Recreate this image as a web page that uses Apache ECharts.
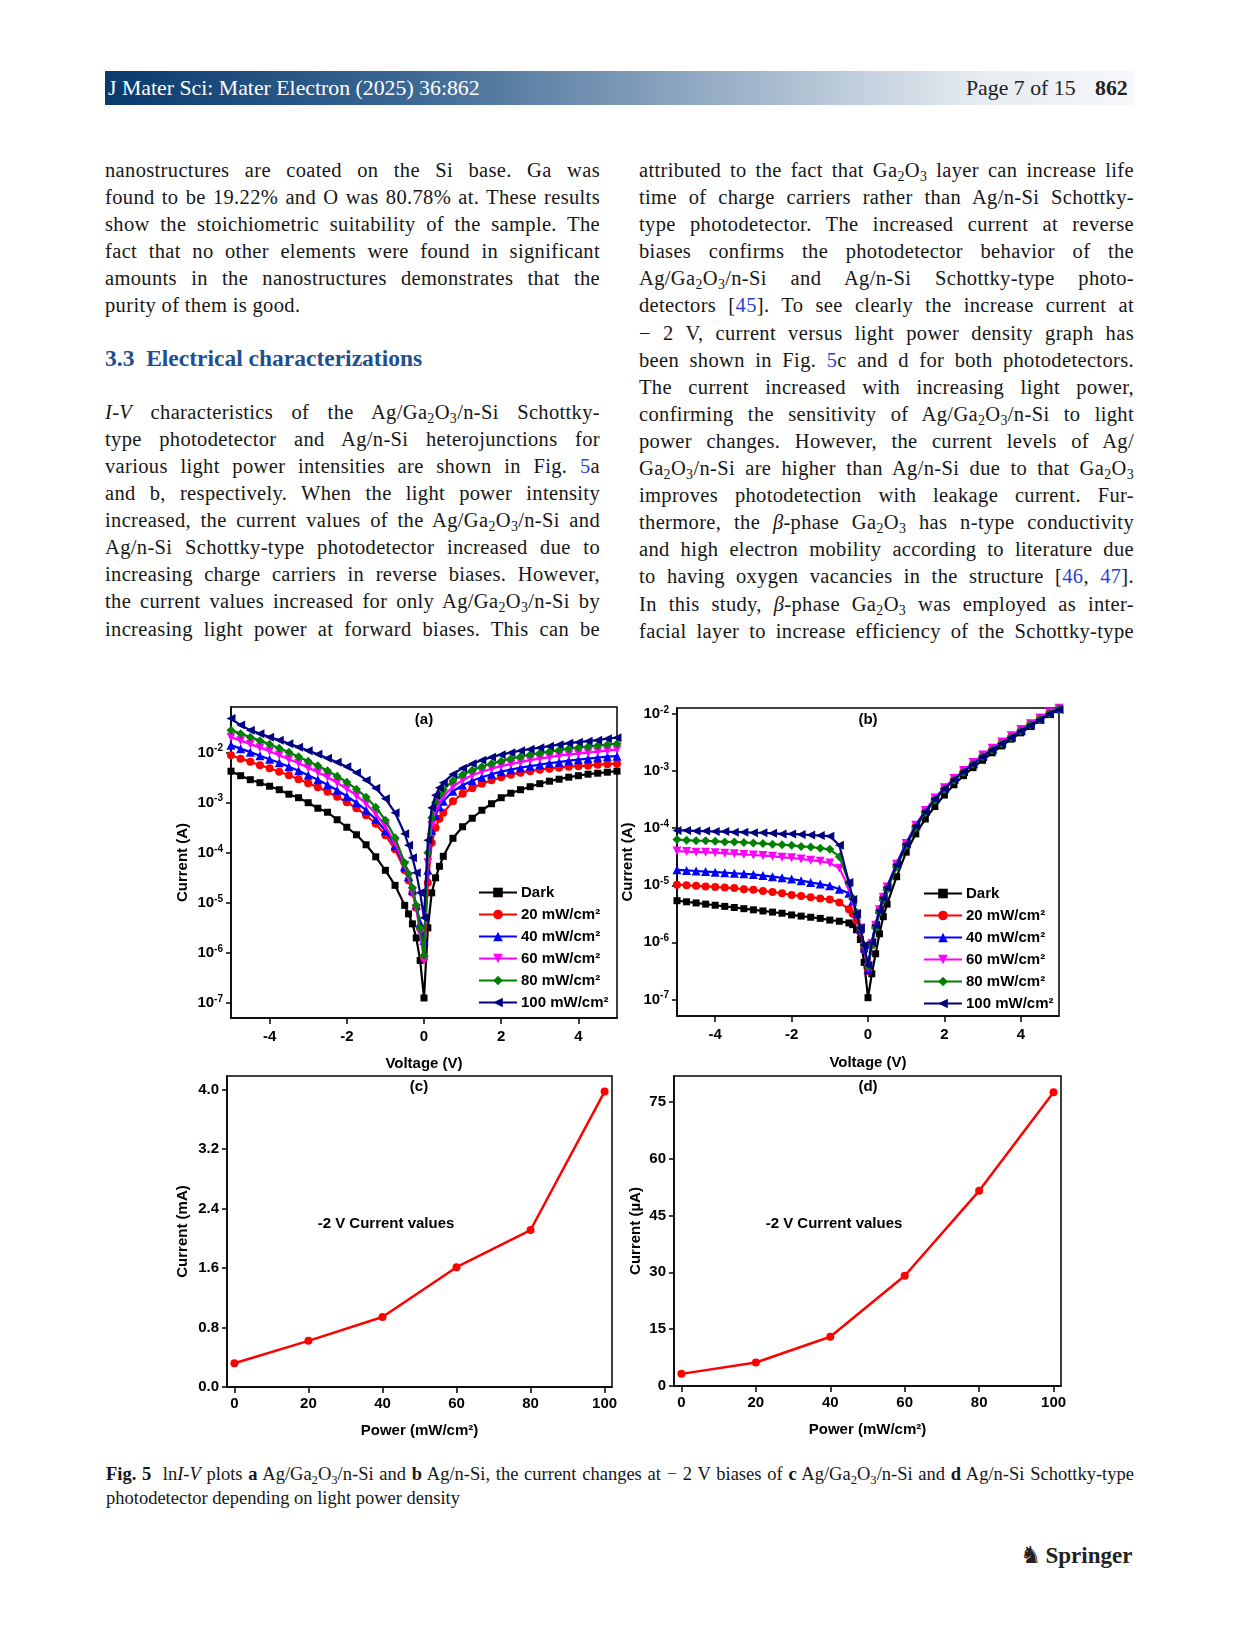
<!DOCTYPE html>
<html><head><meta charset="utf-8">
<script src="https://cdn.jsdelivr.net/npm/echarts@6/dist/echarts.min.js"></script>
<style>
html,body{margin:0;padding:0;background:#fff;}
#page{position:relative;width:1241px;height:1648px;overflow:hidden;font-family:"Liberation Serif","DejaVu Serif",serif;color:#161616;}
.hdr{position:absolute;left:105px;top:71px;width:1030px;height:34px;background:linear-gradient(to right,#093a6d 0%,#3d6894 30%,#9fb4ca 62%,#e6ecf1 85%,#f7f8fa 100%);}
.htxt{position:absolute;top:0;line-height:34px;font-size:21.8px;white-space:nowrap;}
.ln{position:absolute;white-space:nowrap;text-align:justify;text-align-last:justify;font-size:20.5px;letter-spacing:0.35px;line-height:24px;height:24px;}
.L{left:105px;width:495px;}
.R{left:639px;width:495px;}
.last{text-align-last:left;}
sub{font-size:0.68em;vertical-align:-0.28em;line-height:0;}
.lk{color:#2b3fd1;}
h3{position:absolute;left:105px;top:344px;margin:0;font-size:23.5px;line-height:28px;color:#1f4f8f;font-weight:bold;white-space:nowrap;}
.cap{position:absolute;left:106px;width:1028px;white-space:nowrap;font-size:18.5px;line-height:22px;height:22px;}
#chart{position:absolute;left:0;top:650px;width:1241px;height:810px;}
</style></head>
<body><div id="page">
<div class="hdr">
 <span class="htxt" style="left:3px;color:#fff;">J Mater Sci: Mater Electron (2025) 36:862</span>
 <span class="htxt" style="left:861px;color:#222;">Page 7 of 15</span>
 <span class="htxt" style="left:990px;color:#222;font-weight:bold;">862</span>
</div>

<div class="ln L" style="top:158px">nanostructures are coated on the Si base. Ga was</div>
<div class="ln L" style="top:185px">found to be 19.22% and O was 80.78% at. These results</div>
<div class="ln L" style="top:212px">show the stoichiometric suitability of the sample. The</div>
<div class="ln L" style="top:239px">fact that no other elements were found in significant</div>
<div class="ln L" style="top:266px">amounts in the nanostructures demonstrates that the</div>
<div class="ln L last" style="top:293px">purity of them is good.</div>
<h3>3.3&nbsp;&nbsp;Electrical characterizations</h3>
<div class="ln L" style="top:400px"><i>I-V</i> characteristics of the Ag/Ga<sub>2</sub>O<sub>3</sub>/n-Si Schottky-</div>
<div class="ln L" style="top:427px">type photodetector and Ag/n-Si heterojunctions for</div>
<div class="ln L" style="top:454px">various light power intensities are shown in Fig. <span class="lk">5</span>a</div>
<div class="ln L" style="top:481px">and b, respectively. When the light power intensity</div>
<div class="ln L" style="top:508px">increased, the current values of the Ag/Ga<sub>2</sub>O<sub>3</sub>/n-Si and</div>
<div class="ln L" style="top:535px">Ag/n-Si Schottky-type photodetector increased due to</div>
<div class="ln L" style="top:562px">increasing charge carriers in reverse biases. However,</div>
<div class="ln L" style="top:589px">the current values increased for only Ag/Ga<sub>2</sub>O<sub>3</sub>/n-Si by</div>
<div class="ln L" style="top:617px">increasing light power at forward biases. This can be</div>

<div class="ln R" style="top:158px">attributed to the fact that Ga<sub>2</sub>O<sub>3</sub> layer can increase life</div>
<div class="ln R" style="top:185px">time of charge carriers rather than Ag/n-Si Schottky-</div>
<div class="ln R" style="top:212px">type photodetector. The increased current at reverse</div>
<div class="ln R" style="top:239px">biases confirms the photodetector behavior of the</div>
<div class="ln R" style="top:266px">Ag/Ga<sub>2</sub>O<sub>3</sub>/n-Si and Ag/n-Si Schottky-type photo-</div>
<div class="ln R" style="top:293px">detectors [<span class="lk">45</span>]. To see clearly the increase current at</div>
<div class="ln R" style="top:321px">− 2 V, current versus light power density graph has</div>
<div class="ln R" style="top:348px">been shown in Fig. <span class="lk">5</span>c and d for both photodetectors.</div>
<div class="ln R" style="top:375px">The current increased with increasing light power,</div>
<div class="ln R" style="top:402px">confirming the sensitivity of Ag/Ga<sub>2</sub>O<sub>3</sub>/n-Si to light</div>
<div class="ln R" style="top:429px">power changes. However, the current levels of Ag/</div>
<div class="ln R" style="top:456px">Ga<sub>2</sub>O<sub>3</sub>/n-Si are higher than Ag/n-Si due to that Ga<sub>2</sub>O<sub>3</sub></div>
<div class="ln R" style="top:483px">improves photodetection with leakage current. Fur-</div>
<div class="ln R" style="top:510px">thermore, the <i>β</i>-phase Ga<sub>2</sub>O<sub>3</sub> has n-type conductivity</div>
<div class="ln R" style="top:537px">and high electron mobility according to literature due</div>
<div class="ln R" style="top:564px">to having oxygen vacancies in the structure [<span class="lk">46</span>, <span class="lk">47</span>].</div>
<div class="ln R" style="top:592px">In this study, <i>β</i>-phase Ga<sub>2</sub>O<sub>3</sub> was employed as inter-</div>
<div class="ln R" style="top:619px">facial layer to increase efficiency of the Schottky-type</div>

<div id="chart"></div>

<div class="cap" style="top:1463px;text-align:justify;text-align-last:justify;"><b>Fig. 5</b>&nbsp; ln<i>I-V</i> plots <b>a</b> Ag/Ga<sub>2</sub>O<sub>3</sub>/n-Si and <b>b</b> Ag/n-Si, the current changes at − 2 V biases of <b>c</b> Ag/Ga<sub>2</sub>O<sub>3</sub>/n-Si and <b>d</b> Ag/n-Si Schottky-type</div>
<div class="cap" style="top:1487px;">photodetector depending on light power density</div>

<div style="position:absolute;left:1020px;top:1540px;height:30px;white-space:nowrap;">
 <span style="font-family:'DejaVu Sans';font-size:24px;line-height:30px;color:#222;">&#9822;</span><span style="font-weight:bold;font-size:23px;line-height:30px;color:#222;margin-left:4px;">Springer</span>
</div>
</div>

<script>
// Bias voltage (V) for panels (a) and (b)
const voltage = [-5,-4.75,-4.5,-4.25,-4,-3.75,-3.5,-3.25,-3,-2.75,-2.5,-2.25,-2,-1.75,-1.5,-1.25,-1,-0.75,-0.5,-0.4,-0.3,-0.2,-0.1,0,0.1,0.2,0.3,0.4,0.5,0.75,1,1.25,1.5,1.75,2,2.25,2.5,2.75,3,3.25,3.5,3.75,4,4.25,4.5,4.75,5];

// Panel (a) Ag/Ga2O3/n-Si : log10 of current (A)
const aDark = [-2.37,-2.46,-2.54,-2.60,-2.67,-2.74,-2.83,-2.90,-3.00,-3.11,-3.19,-3.34,-3.49,-3.64,-3.84,-4.08,-4.35,-4.65,-5.05,-5.22,-5.42,-5.70,-6.15,-6.90,-5.50,-4.80,-4.50,-4.27,-4.07,-3.71,-3.48,-3.31,-3.15,-3.02,-2.90,-2.81,-2.74,-2.68,-2.62,-2.57,-2.53,-2.49,-2.46,-2.43,-2.41,-2.39,-2.37];
const aP20 = [-2.05,-2.12,-2.18,-2.25,-2.31,-2.38,-2.45,-2.53,-2.61,-2.69,-2.78,-2.88,-2.99,-3.11,-3.25,-3.42,-3.65,-3.93,-4.35,-4.55,-4.80,-5.10,-5.50,-6.10,-4.60,-3.80,-3.50,-3.32,-3.20,-2.97,-2.82,-2.71,-2.62,-2.55,-2.49,-2.44,-2.40,-2.37,-2.34,-2.32,-2.30,-2.28,-2.27,-2.26,-2.24,-2.23,-2.22];
const aP40 = [-1.85,-1.92,-1.99,-2.06,-2.13,-2.20,-2.28,-2.36,-2.45,-2.54,-2.64,-2.75,-2.87,-3.00,-3.15,-3.33,-3.56,-3.86,-4.28,-4.48,-4.75,-5.05,-5.40,-5.75,-4.35,-3.55,-3.25,-3.08,-2.97,-2.77,-2.65,-2.56,-2.49,-2.43,-2.38,-2.34,-2.30,-2.27,-2.24,-2.21,-2.19,-2.16,-2.14,-2.12,-2.10,-2.08,-2.07];
const aP60 = [-1.69,-1.76,-1.83,-1.90,-1.97,-2.05,-2.13,-2.21,-2.30,-2.39,-2.49,-2.60,-2.72,-2.86,-3.02,-3.22,-3.47,-3.80,-4.25,-4.48,-4.78,-5.12,-5.60,-6.15,-4.20,-3.45,-3.15,-2.98,-2.87,-2.68,-2.55,-2.45,-2.38,-2.32,-2.27,-2.23,-2.19,-2.15,-2.12,-2.09,-2.06,-2.04,-2.02,-2.00,-1.98,-1.96,-1.94];
const aP80 = [-1.55,-1.62,-1.69,-1.76,-1.83,-1.91,-1.99,-2.08,-2.17,-2.26,-2.36,-2.47,-2.59,-2.73,-2.89,-3.09,-3.35,-3.70,-4.20,-4.42,-4.70,-5.05,-5.50,-6.05,-4.00,-3.30,-3.00,-2.85,-2.74,-2.56,-2.44,-2.35,-2.28,-2.22,-2.17,-2.12,-2.08,-2.04,-2.01,-1.98,-1.95,-1.92,-1.90,-1.88,-1.86,-1.84,-1.82];
const aP100 = [-1.32,-1.45,-1.55,-1.62,-1.69,-1.75,-1.82,-1.89,-1.96,-2.03,-2.11,-2.19,-2.28,-2.40,-2.55,-2.71,-2.92,-3.20,-3.62,-3.85,-4.10,-4.40,-4.80,-5.30,-3.75,-3.10,-2.85,-2.70,-2.60,-2.43,-2.31,-2.22,-2.15,-2.09,-2.04,-2.00,-1.96,-1.93,-1.90,-1.87,-1.84,-1.81,-1.79,-1.77,-1.75,-1.72,-1.70];

// Panel (b) Ag/n-Si : log10 of current (A)
const bDark = [-5.27,-5.29,-5.31,-5.33,-5.35,-5.37,-5.39,-5.41,-5.43,-5.45,-5.47,-5.49,-5.52,-5.54,-5.56,-5.58,-5.61,-5.63,-5.66,-5.69,-5.78,-5.95,-6.35,-6.97,-6.55,-6.20,-5.85,-5.55,-5.33,-4.85,-4.42,-4.10,-3.84,-3.62,-3.42,-3.24,-3.08,-2.94,-2.81,-2.68,-2.56,-2.44,-2.33,-2.22,-2.11,-2.01,-1.92];
const bP20 = [-4.99,-5.00,-5.01,-5.02,-5.03,-5.04,-5.05,-5.07,-5.08,-5.10,-5.12,-5.14,-5.17,-5.19,-5.21,-5.23,-5.25,-5.30,-5.42,-5.50,-5.62,-5.80,-6.12,-6.50,-6.05,-5.72,-5.45,-5.22,-5.05,-4.65,-4.28,-3.97,-3.71,-3.49,-3.31,-3.15,-3.01,-2.87,-2.74,-2.62,-2.51,-2.40,-2.29,-2.18,-2.08,-1.98,-1.91];
const bP40 = [-4.73,-4.74,-4.75,-4.76,-4.77,-4.78,-4.79,-4.80,-4.81,-4.83,-4.85,-4.87,-4.89,-4.92,-4.95,-4.98,-5.01,-5.07,-5.14,-5.28,-5.50,-5.76,-6.10,-6.48,-6.00,-5.68,-5.42,-5.20,-5.02,-4.62,-4.26,-3.95,-3.70,-3.48,-3.30,-3.14,-3.00,-2.86,-2.73,-2.61,-2.50,-2.39,-2.28,-2.17,-2.07,-1.98,-1.91];
const bP60 = [-4.40,-4.41,-4.42,-4.42,-4.43,-4.44,-4.45,-4.46,-4.47,-4.48,-4.49,-4.51,-4.52,-4.54,-4.56,-4.58,-4.61,-4.70,-5.05,-5.28,-5.50,-5.75,-6.08,-6.45,-6.02,-5.70,-5.43,-5.21,-5.03,-4.63,-4.27,-3.95,-3.69,-3.47,-3.29,-3.13,-2.99,-2.85,-2.72,-2.60,-2.49,-2.38,-2.27,-2.17,-2.07,-1.97,-1.90];
const bP80 = [-4.20,-4.21,-4.22,-4.22,-4.23,-4.24,-4.24,-4.25,-4.26,-4.27,-4.28,-4.29,-4.30,-4.32,-4.33,-4.35,-4.37,-4.50,-4.95,-5.22,-5.48,-5.75,-6.05,-6.42,-6.05,-5.75,-5.48,-5.26,-5.08,-4.68,-4.31,-3.99,-3.73,-3.51,-3.32,-3.16,-3.02,-2.88,-2.75,-2.63,-2.52,-2.41,-2.30,-2.19,-2.09,-1.99,-1.91];
const bP100 = [-4.04,-4.04,-4.05,-4.05,-4.06,-4.06,-4.07,-4.07,-4.08,-4.08,-4.09,-4.10,-4.10,-4.11,-4.12,-4.13,-4.14,-4.30,-4.95,-5.25,-5.50,-5.75,-6.05,-6.40,-6.00,-5.70,-5.44,-5.22,-5.04,-4.64,-4.28,-3.96,-3.71,-3.49,-3.31,-3.15,-3.01,-2.88,-2.75,-2.63,-2.52,-2.41,-2.30,-2.20,-2.10,-2.00,-1.92];

// Panels (c) and (d): current at -2 V vs light power
const power = [0, 20, 40, 60, 80, 100];
const cCurrentMA = [0.32, 0.62, 0.94, 1.61, 2.11, 3.97];
const dCurrentUA = [3.2, 6.2, 13.0, 29.1, 51.5, 77.5];

// Labels
const seriesNames = ['Dark', '20 mW/cm²', '40 mW/cm²', '60 mW/cm²', '80 mW/cm²', '100 mW/cm²'];
const logTicks = [1e-7, 1e-6, 1e-5, 1e-4, 1e-3, 1e-2];
const voltTicks = [-4, -2, 0, 2, 4];
const powerTicks = [0, 20, 40, 60, 80, 100];
const cTicks = [0, 0.8, 1.6, 2.4, 3.2, 4.0];
const dTicks = [0, 15, 30, 45, 60, 75];

const FONT = '"Liberation Sans", Arial, sans-serif';
const OFF = 650;
const colors = ['#000000', '#ff0000', '#0000ff', '#ff00ff', '#008000', '#000080'];
const symbols = ['rect', 'circle', 'triangle', 'triangle', 'diamond', 'triangle'];
const rotates = [0, 0, 0, 180, 0, 90];
const sizes = [7, 8, 9, 9, 9, 9];

const lab = {fontFamily: FONT, fontWeight: 'bold', fontSize: 15, color: '#000'};
const axLine = {show: true, onZero: false, lineStyle: {color: '#000', width: 1.5}};

function xAx(g, min, max, ticks, name, gap, margin) {
  return {gridIndex: g, type: 'value', min, max, axisLine: axLine,
    axisTick: {show: true, length: 6, customValues: ticks, lineStyle: {color: '#000', width: 1.5}},
    axisLabel: Object.assign({customValues: ticks, margin}, lab),
    splitLine: {show: false}, name, nameLocation: 'middle', nameGap: gap, nameTextStyle: lab};
}
function yLog(g, min, max, name, gap) {
  return {gridIndex: g, type: 'log', logBase: 10, min, max, axisLine: axLine,
    axisTick: {show: true, length: 5, customValues: logTicks, lineStyle: {color: '#000', width: 1.5}},
    axisLabel: {customValues: logTicks, margin: 8,
      formatter: v => '{b|10}{s|' + Math.round(Math.log10(v)) + '}',
      rich: {b: {fontFamily: FONT, fontWeight: 'bold', fontSize: 15, color: '#000', lineHeight: 18},
             s: {fontFamily: FONT, fontWeight: 'bold', fontSize: 10, color: '#000', lineHeight: 10, verticalAlign: 'top'}}},
    splitLine: {show: false}, minorTick: {show: false},
    name, nameLocation: 'middle', nameRotate: 90, nameGap: gap, nameTextStyle: lab};
}
function yLin(g, max, ticks, fmt, name, gap) {
  return {gridIndex: g, type: 'value', min: 0, max, axisLine: axLine,
    axisTick: {show: true, length: 5, customValues: ticks, lineStyle: {color: '#000', width: 1.5}},
    axisLabel: Object.assign({customValues: ticks, margin: 8, formatter: fmt}, lab),
    splitLine: {show: false}, name, nameLocation: 'middle', nameRotate: 90, nameGap: gap, nameTextStyle: lab};
}

function ivSeries(g, arrs) {
  return arrs.map((arr, k) => ({
    type: 'line', name: seriesNames[k], xAxisIndex: g, yAxisIndex: g,
    data: voltage.map((v, i) => [v, Math.pow(10, arr[i])]),
    symbol: symbols[k], symbolRotate: rotates[k], symbolSize: sizes[k], showAllSymbol: true,
    lineStyle: {color: colors[k], width: 2.2}, itemStyle: {color: colors[k]},
    z: 2 + k, animation: false
  }));
}
function pSeries(g, vals) {
  return {type: 'line', xAxisIndex: g, yAxisIndex: g, data: power.map((p, i) => [p, vals[i]]),
    symbol: 'circle', symbolSize: 8, lineStyle: {color: '#ff0000', width: 2.5},
    itemStyle: {color: '#ff0000'}, animation: false};
}

const legendBase = {orient: 'vertical', itemWidth: 38, itemHeight: 12, itemGap: 7, itemStyle: {borderWidth: 0},
  textStyle: Object.assign({padding: [0, 0, 0, -1]}, lab), data: seriesNames, selectedMode: false};

const chart = echarts.init(document.getElementById('chart'), null, {renderer: 'canvas'});
chart.setOption({
  animation: false,
  grid: [
    {left: 231, top: 707 - OFF, width: 386, height: 311, show: true, borderColor: '#000', borderWidth: 1.5},
    {left: 677, top: 708 - OFF, width: 382, height: 308, show: true, borderColor: '#000', borderWidth: 1.5},
    {left: 227, top: 1076 - OFF, width: 385, height: 311, show: true, borderColor: '#000', borderWidth: 1.5},
    {left: 674, top: 1076 - OFF, width: 387, height: 310, show: true, borderColor: '#000', borderWidth: 1.5}
  ],
  xAxis: [
    xAx(0, -5, 5, voltTicks, 'Voltage (V)', 38, 11),
    xAx(1, -5, 5, voltTicks, 'Voltage (V)', 39, 11),
    xAx(2, -2, 102, powerTicks, 'Power (mW/cm²)', 36, 9),
    xAx(3, -2, 102, powerTicks, 'Power (mW/cm²)', 36, 9)
  ],
  yAxis: [
    yLog(0, Math.pow(10, -7.3), Math.pow(10, -1.088), 'Current (A)', 41),
    yLog(1, Math.pow(10, -7.29), Math.pow(10, -1.895), 'Current (A)', 42),
    yLin(2, 4.18, cTicks, v => v.toFixed(1), 'Current (mA)', 37),
    yLin(3, 81.8, dTicks, v => String(v), 'Current (µA)', 31)
  ],
  legend: [
    Object.assign({left: 473, top: 880 - OFF}, legendBase),
    Object.assign({left: 918, top: 881 - OFF}, legendBase)
  ],
  graphic: [
    {type: 'text', x: 424, y: 720 - OFF, style: {text: '(a)', fill: '#000', font: 'bold 15px ' + FONT, align: 'center', verticalAlign: 'middle'}},
    {type: 'text', x: 868, y: 720 - OFF, style: {text: '(b)', fill: '#000', font: 'bold 15px ' + FONT, align: 'center', verticalAlign: 'middle'}},
    {type: 'text', x: 419, y: 1087 - OFF, style: {text: '(c)', fill: '#000', font: 'bold 15px ' + FONT, align: 'center', verticalAlign: 'middle'}},
    {type: 'text', x: 868, y: 1087 - OFF, style: {text: '(d)', fill: '#000', font: 'bold 15px ' + FONT, align: 'center', verticalAlign: 'middle'}},
    {type: 'text', x: 386, y: 1224 - OFF, style: {text: '-2 V Current values', fill: '#000', font: 'bold 15px ' + FONT, align: 'center', verticalAlign: 'middle'}},
    {type: 'text', x: 834, y: 1224 - OFF, style: {text: '-2 V Current values', fill: '#000', font: 'bold 15px ' + FONT, align: 'center', verticalAlign: 'middle'}}
  ],
  series: [].concat(
    ivSeries(0, [aDark, aP20, aP40, aP60, aP80, aP100]),
    ivSeries(1, [bDark, bP20, bP40, bP60, bP80, bP100]),
    [pSeries(2, cCurrentMA), pSeries(3, dCurrentUA)]
  )
});
</script>
</body></html>
